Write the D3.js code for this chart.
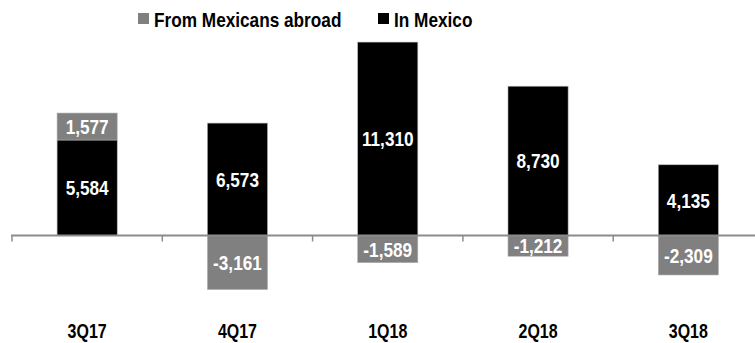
<!DOCTYPE html>
<html>
  <head>
    <meta charset="utf-8" />
    <title>Remittances by quarter</title>
    <script src="https://d3js.org/d3.v7.min.js"></script>
    <style>
      body { margin: 0; background: #fff; }
      text { font-family: "Liberation Sans", Arial, sans-serif; font-weight: bold; }
    </style>
  </head>
  <body>
    <svg id="chart" width="755" height="343"></svg>

    <script>
      var quarters = ["3Q17", "4Q17", "1Q18", "2Q18", "3Q18"];
      var inMexico = [5584, 6573, 11310, 8730, 4135];
      var fromAbroad = [1577, -3161, -1589, -1212, -2309];
      var seriesNames = ["From Mexicans abroad", "In Mexico"];
      var seriesColors = ["#808080", "#000000"];

      var svg = d3.select("#chart");
      var squeeze = 0.82; // no narrow font installed, squeeze Liberation Sans instead

      // band scale runs past the right edge, like the original
      var x = d3.scaleBand()
        .domain(quarters)
        .range([12, 763.5])
        .paddingInner(0.6)
        .paddingOuter(0.3);

      var y = d3.scaleLinear()
        .domain([-4000, 12000])
        .range([303.9, 30.3]);

      var fmt = d3.formatLocale({ decimal: ".", thousands: ",", grouping: [3], currency: ["$", ""], minus: "-" }).format(",");

      var rows = quarters.map(function (q, i) {
        var m = inMexico[i];
        var a = fromAbroad[i];
        return {
          q: q,
          segs: [
            { s: 1, y0: 0, y1: m, v: m },
            a >= 0 ? { s: 0, y0: m, y1: m + a, v: a } : { s: 0, y0: a, y1: 0, v: a }
          ]
        };
      });

      var segs = [];
      rows.forEach(function (r) {
        r.segs.forEach(function (s) {
          s.q = r.q;
          segs.push(s);
        });
      });

      svg.selectAll("rect.bar")
        .data(segs)
        .enter()
        .append("rect")
        .attr("class", "bar")
        .attr("x", function (d) { return x(d.q); })
        .attr("width", x.bandwidth())
        .attr("y", function (d) { return y(Math.max(d.y0, d.y1)); })
        .attr("height", function (d) { return Math.abs(y(d.y0) - y(d.y1)); })
        .style("fill", function (d) { return seriesColors[d.s]; })
        .style("stroke", "#b0b0b0")
        .style("stroke-width", 0.6);

      // axis at zero
      var zeroY = Math.round(y(0)) + 0.5;
      svg.append("line")
        .attr("x1", 11).attr("x2", 755)
        .attr("y1", zeroY).attr("y2", zeroY)
        .style("stroke", "#8c8c8c")
        .style("stroke-width", 2);

      var tickX = quarters.map(function (q, i) { return 12 + i * x.step(); });
      svg.selectAll("line.tick")
        .data(tickX)
        .enter()
        .append("line")
        .attr("class", "tick")
        .attr("x1", function (d) { return d; })
        .attr("x2", function (d) { return d; })
        .attr("y1", zeroY)
        .attr("y2", zeroY + 6)
        .style("stroke", "#8c8c8c")
        .style("stroke-width", 1.5);

      function placeText(sel, fx, fy) {
        sel.attr("transform", function (d, i) {
          return "translate(" + fx(d, i) + "," + fy(d, i) + ") scale(" + squeeze + ",1)";
        });
      }

      // value labels
      svg.selectAll("text.val")
        .data(segs)
        .enter()
        .append("text")
        .attr("class", "val")
        .attr("dy", "0.36em")
        .attr("text-anchor", "middle")
        .attr("font-size", 21)
        .style("fill", "#fff")
        .text(function (d) { return fmt(d.v); })
        .call(placeText,
          function (d) { return x(d.q) + x.bandwidth() / 2; },
          function (d) { return (y(d.y0) + y(d.y1)) / 2; });

      // category labels
      svg.selectAll("text.cat")
        .data(quarters)
        .enter()
        .append("text")
        .attr("class", "cat")
        .attr("text-anchor", "middle")
        .attr("font-size", 19.5)
        .style("fill", "#000")
        .text(function (d) { return d; })
        .call(placeText,
          function (d) { return x(d) + x.bandwidth() / 2; },
          function () { return 338; });

      // legend
      var legendX = [138, 378];
      var legend = svg.selectAll("g.leg")
        .data(seriesNames)
        .enter()
        .append("g")
        .attr("class", "leg")
        .attr("transform", function (d, i) { return "translate(" + legendX[i] + ",0)"; });

      legend.append("rect")
        .attr("x", 0).attr("y", 13)
        .attr("width", 11).attr("height", 11)
        .style("fill", function (d, i) { return seriesColors[i]; });

      legend.append("text")
        .attr("font-size", 21)
        .style("fill", "#000")
        .text(function (d) { return d; })
        .attr("transform", "translate(16,27) scale(" + squeeze + ",1)");
    </script>
  </body>
</html>
